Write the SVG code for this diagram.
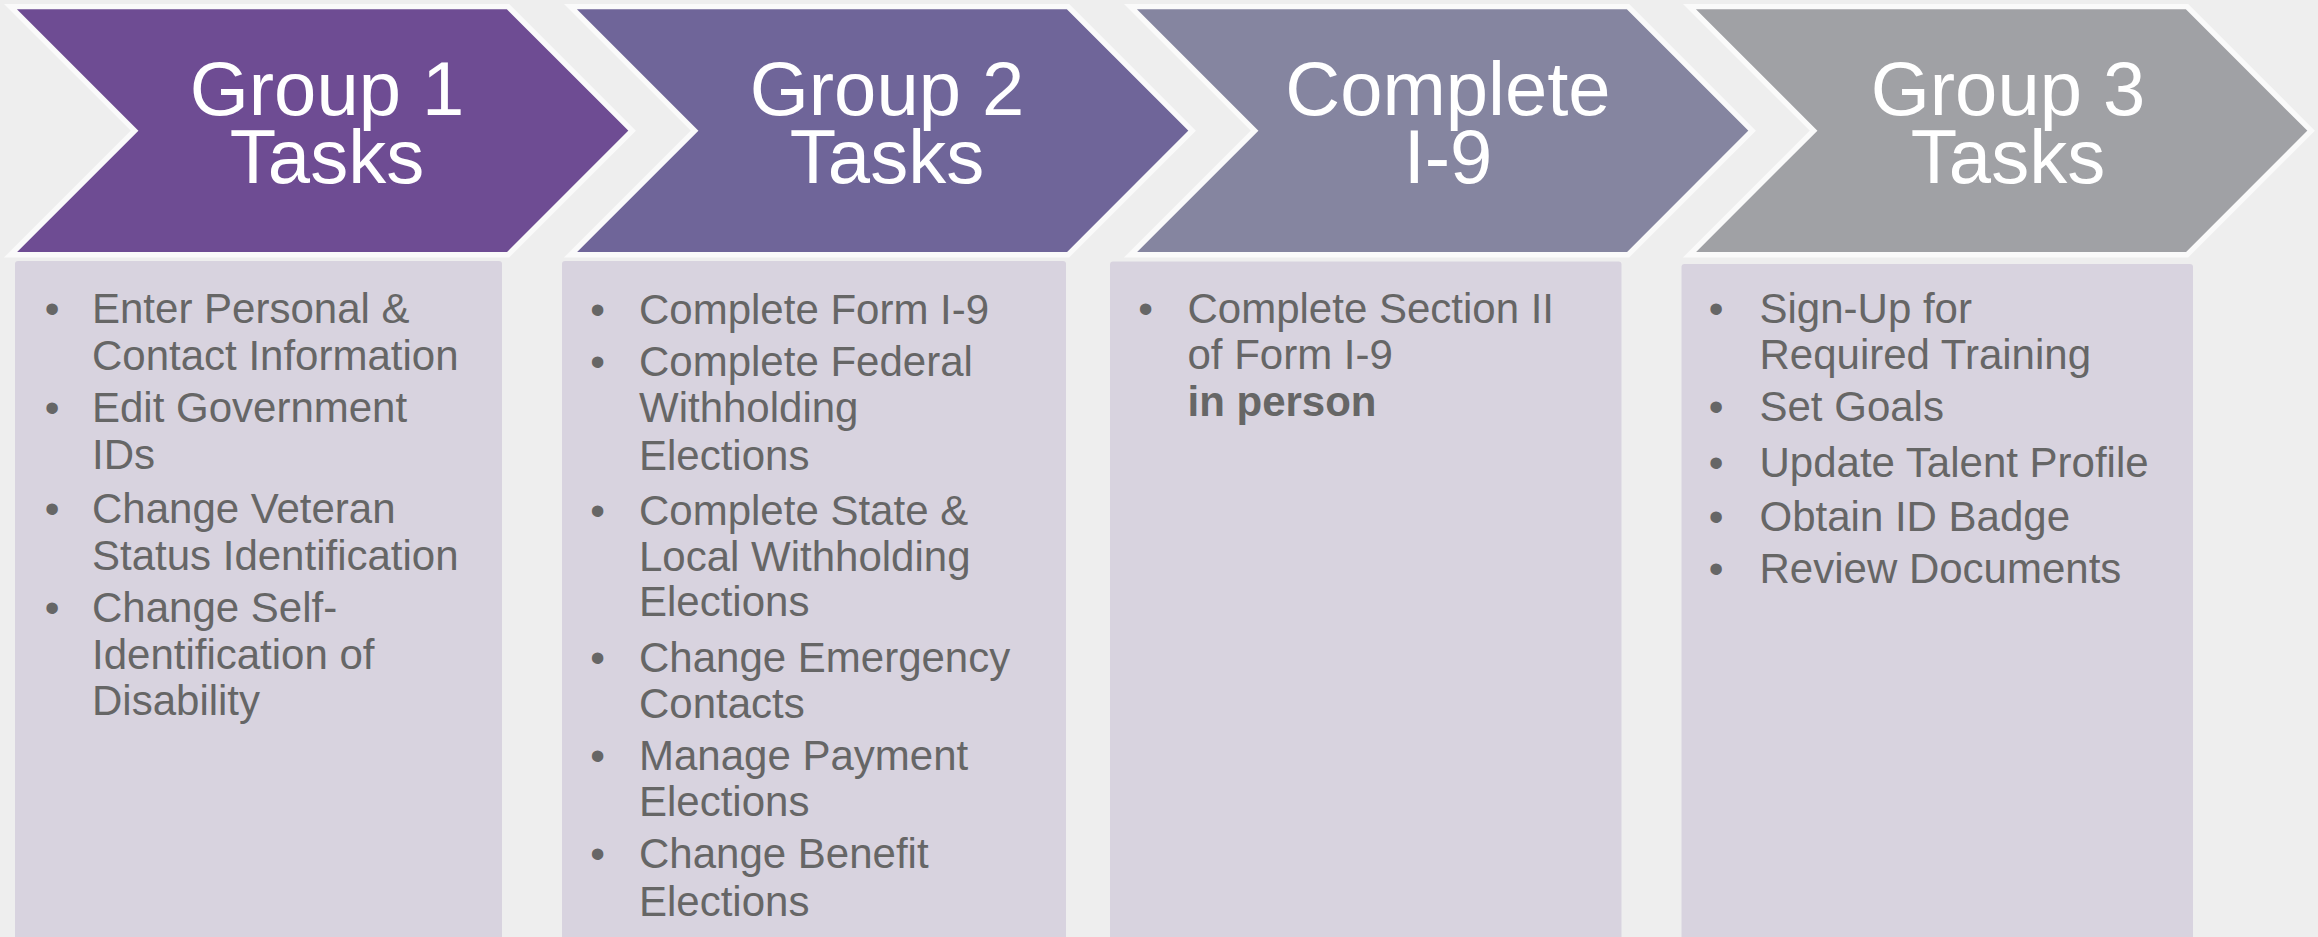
<svg xmlns="http://www.w3.org/2000/svg" width="2318" height="937" viewBox="0 0 2318 937">
<defs>
<style>
.chev{stroke:#FAFAFA;stroke-width:5.4;stroke-linejoin:miter;stroke-miterlimit:10}
.head{font-family:"Liberation Sans",Arial,Helvetica,sans-serif;font-size:76px;fill:#FFFFFF;text-anchor:middle}
.box{fill:#D8D3DF}
.item{font-family:"Liberation Sans",Arial,Helvetica,sans-serif;font-size:42px;fill:#666666}
.bul{font-family:"Liberation Sans",Arial,Helvetica,sans-serif;font-size:42px;fill:#666666;text-anchor:middle}
.b{font-weight:bold}
</style>
<polygon id="chevShape" points="10.5,6.6 508,6.6 632.1,130.7 508,254.8 10.5,254.8 134.6,130.7"/>
</defs>
<rect x="0" y="0" width="2318" height="937" fill="#EEEEEE"/>
<g id="connectors"/>

<g id="group1">
<use href="#chevShape" class="chev" fill="#6E4C93"/>
<text class="head"><tspan x="327" y="115">Group 1</tspan><tspan x="327" y="183">Tasks</tspan></text>
<rect class="box" x="15" y="261" width="487" height="680" rx="3"/>
<text class="bul" x="52" y="323">•</text>
<text class="item" x="92" y="323">Enter Personal &amp;</text>
<text class="item" x="92" y="369.5">Contact Information</text>
<text class="bul" x="52" y="421.5">•</text>
<text class="item" x="92" y="421.5">Edit Government</text>
<text class="item" x="92" y="468.5">IDs</text>
<text class="bul" x="52" y="523">•</text>
<text class="item" x="92" y="523">Change Veteran</text>
<text class="item" x="92" y="569.5">Status Identification</text>
<text class="bul" x="52" y="621.5">•</text>
<text class="item" x="92" y="621.5">Change Self-</text>
<text class="item" x="92" y="669">Identification of</text>
<text class="item" x="92" y="715">Disability</text>
</g>

<g id="group2">
<use href="#chevShape" class="chev" fill="#6F6599" transform="translate(560,0)"/>
<text class="head"><tspan x="887" y="115">Group 2</tspan><tspan x="887" y="183">Tasks</tspan></text>
<rect class="box" x="562" y="261" width="504" height="680" rx="3"/>
<text class="bul" x="597.5" y="323.5">•</text>
<text class="item" x="639" y="323.5">Complete Form I-9</text>
<text class="bul" x="597.5" y="376">•</text>
<text class="item" x="639" y="376">Complete Federal</text>
<text class="item" x="639" y="422">Withholding</text>
<text class="item" x="639" y="470">Elections</text>
<text class="bul" x="597.5" y="524.5">•</text>
<text class="item" x="639" y="524.5">Complete State &amp;</text>
<text class="item" x="639" y="571">Local Withholding</text>
<text class="item" x="639" y="615.5">Elections</text>
<text class="bul" x="597.5" y="672">•</text>
<text class="item" x="639" y="672">Change Emergency</text>
<text class="item" x="639" y="718">Contacts</text>
<text class="bul" x="597.5" y="769.5">•</text>
<text class="item" x="639" y="769.5">Manage Payment</text>
<text class="item" x="639" y="815.5">Elections</text>
<text class="bul" x="597.5" y="868">•</text>
<text class="item" x="639" y="868">Change Benefit</text>
<text class="item" x="639" y="915.5">Elections</text>
</g>

<g id="completeI9">
<use href="#chevShape" class="chev" fill="#8585A0" transform="translate(1120,0)"/>
<text class="head"><tspan x="1448" y="115">Complete</tspan><tspan x="1448" y="183">I-9</tspan></text>
<rect class="box" x="1110" y="261.5" width="511.5" height="680" rx="3"/>
<text class="bul" x="1145.5" y="323">•</text>
<text class="item" x="1187.5" y="323">Complete Section II</text>
<text class="item" x="1187.5" y="368.5">of Form I-9</text>
<text class="item b" x="1187.5" y="416">in person</text>
</g>

<g id="group3">
<use href="#chevShape" class="chev" fill="#A0A1A5" transform="translate(1679,0)"/>
<text class="head"><tspan x="2008" y="115">Group 3</tspan><tspan x="2008" y="183">Tasks</tspan></text>
<rect class="box" x="1681.5" y="264" width="511.5" height="680" rx="3"/>
<text class="bul" x="1716" y="322.5">•</text>
<text class="item" x="1759.5" y="322.5">Sign-Up for</text>
<text class="item" x="1759.5" y="368.5">Required Training</text>
<text class="bul" x="1716" y="421">•</text>
<text class="item" x="1759.5" y="421">Set Goals</text>
<text class="bul" x="1716" y="477">•</text>
<text class="item" x="1759.5" y="477">Update Talent Profile</text>
<text class="bul" x="1716" y="530.5">•</text>
<text class="item" x="1759.5" y="530.5">Obtain ID Badge</text>
<text class="bul" x="1716" y="583">•</text>
<text class="item" x="1759.5" y="583">Review Documents</text>
</g>
</svg>
